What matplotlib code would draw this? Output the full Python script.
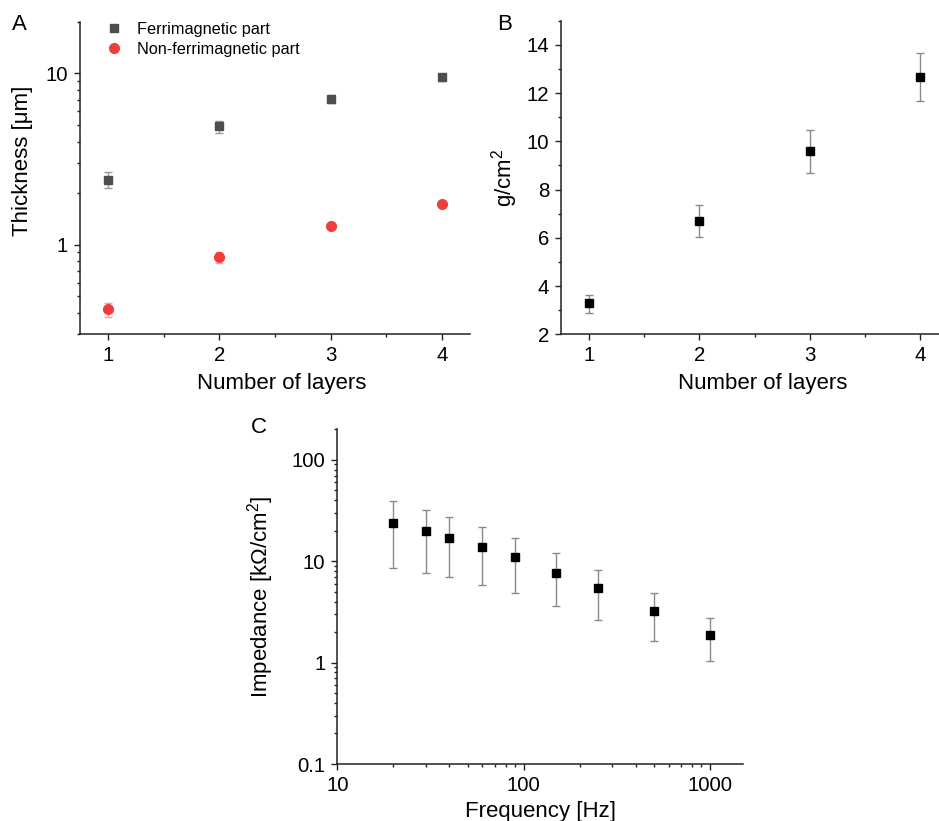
import matplotlib
matplotlib.use("Agg")
import matplotlib.pyplot as plt
from matplotlib.ticker import LogLocator, FixedLocator, NullFormatter, FixedFormatter, MultipleLocator

plt.rcParams['font.family'] = ['Liberation Sans', 'DejaVu Sans']
plt.rcParams['mathtext.default'] = 'regular'

# Panel A data
layers = [1, 2, 3, 4]
ferri = [2.40, 4.91, 7.10, 9.50]
ferri_lo = [2.15, 4.50, 6.75, 9.10]
ferri_hi = [2.65, 5.30, 7.45, 9.90]
nonferri = [0.418, 0.843, 1.28, 1.72]
nonferri_lo = [0.379, 0.785, 1.24, 1.68]
nonferri_hi = [0.457, 0.906, 1.32, 1.76]

# Panel B data
mass = [3.30, 6.70, 9.60, 12.66]
mass_lo = [2.89, 6.03, 8.69, 11.69]
mass_hi = [3.64, 7.36, 10.48, 13.65]

# Panel C data
freq = [20, 30, 40, 60, 90, 150, 250, 500, 1000]
imp = [23.8, 19.8, 17.1, 13.9, 10.9, 7.72, 5.40, 3.20, 1.88]
imp_lo = [8.6, 7.66, 6.95, 5.83, 4.86, 3.61, 2.61, 1.63, 1.03]
imp_hi = [39.5, 32.2, 27.3, 21.9, 16.9, 12.0, 8.15, 4.82, 2.73]

W, H = 939, 821
fig = plt.figure(figsize=(W / 100, H / 100), dpi=100)

def rect(l, r, t, b):
    return [l / W, 1 - b / H, (r - l) / W, (b - t) / H]

TICK_FS = 14.7
LAB_FS = 16
ERR_C = '#8a8a8a'

def style(ax):
    for s in ['top', 'right']:
        ax.spines[s].set_visible(False)
    for s in ['left', 'bottom']:
        ax.spines[s].set_linewidth(1.1)
        ax.spines[s].set_color('#222222')
    ax.tick_params(which='major', direction='out', length=4.5, width=1.0,
                   labelsize=TICK_FS, color='#222222', pad=4)
    ax.tick_params(which='minor', direction='out', length=2.5, width=1.0,
                   color='#222222')

def errs(v, lo, hi):
    return [[a - b for a, b in zip(v, lo)], [b - a for a, b in zip(v, hi)]]

# ---------------- Panel A ----------------
axA = fig.add_axes(rect(80, 470, 22, 334))
axA.set_yscale('log')
axA.errorbar(layers, ferri, yerr=errs(ferri, ferri_lo, ferri_hi), fmt='none',
             ecolor='#9a9a9a', elinewidth=1.0, capsize=3, capthick=1.0)
axA.errorbar(layers, nonferri, yerr=errs(nonferri, nonferri_lo, nonferri_hi), fmt='none',
             ecolor='#f5a0a0', elinewidth=1.0, capsize=3, capthick=1.0)
axA.plot(layers, ferri, 's', color='#4d4d4d', markersize=6.3, label='Ferrimagnetic part')
axA.plot(layers, nonferri, 'o', color='#f23c3c', markersize=7, label='Non-ferrimagnetic part')
axA.set_xlim(0.75, 4.25)
axA.set_ylim(0.3, 20)
axA.xaxis.set_major_locator(FixedLocator(layers))
axA.xaxis.set_minor_locator(FixedLocator([1.5, 2.5, 3.5]))
axA.yaxis.set_major_locator(FixedLocator([1, 10]))
axA.yaxis.set_major_formatter(FixedFormatter(['1', '10']))
axA.yaxis.set_minor_locator(LogLocator(base=10, subs=range(2, 10)))
axA.yaxis.set_minor_formatter(NullFormatter())
style(axA)
axA.set_xlabel('Number of layers', fontsize=LAB_FS)
axA.set_ylabel('Thickness [μm]', fontsize=LAB_FS)
axA.xaxis.set_label_coords(0.518, -0.124)
axA.yaxis.set_label_coords(-0.12, 0.555)
axA.legend(loc='upper left', bbox_to_anchor=(0.067, 1.0), frameon=False,
           fontsize=11.7, handlelength=1.0, handletextpad=0.9,
           labelspacing=0.3, borderpad=0, borderaxespad=0)
fig.text(12 / W, 1 - 30 / H, 'A', fontsize=16)

# ---------------- Panel B ----------------
axB = fig.add_axes(rect(561, 948, 20.7, 334.3))
axB.errorbar(layers, mass, yerr=errs(mass, mass_lo, mass_hi), fmt='none',
             ecolor=ERR_C, elinewidth=1.0, capsize=3, capthick=1.0)
axB.plot(layers, mass, 's', color='black', markersize=5.5)
axB.set_xlim(0.75, 4.25)
axB.set_ylim(2, 15)
axB.xaxis.set_major_locator(FixedLocator(layers))
axB.xaxis.set_minor_locator(FixedLocator([1.5, 2.5, 3.5]))
axB.yaxis.set_major_locator(MultipleLocator(2))
axB.yaxis.set_minor_locator(MultipleLocator(1))
style(axB)
axB.set_xlabel('Number of layers', fontsize=LAB_FS)
axB.set_ylabel('g/cm$^2$', fontsize=LAB_FS)
axB.xaxis.set_label_coords(0.521, -0.124)
axB.yaxis.set_label_coords(-0.106, 0.5)
fig.text(497 / W, 1 - 30 / H, 'B', fontsize=16)

# ---------------- Panel C ----------------
axC = fig.add_axes(rect(337.3, 742.7, 429.3, 764))
axC.set_xscale('log')
axC.set_yscale('log')
axC.errorbar(freq, imp, yerr=errs(imp, imp_lo, imp_hi), fmt='none',
             ecolor=ERR_C, elinewidth=1.0, capsize=3, capthick=1.0)
axC.plot(freq, imp, 's', color='black', markersize=5.5)
axC.set_xlim(10, 1500)
axC.set_ylim(0.1, 200)
axC.xaxis.set_major_locator(FixedLocator([10, 100, 1000]))
axC.xaxis.set_major_formatter(FixedFormatter(['10', '100', '1000']))
axC.xaxis.set_minor_locator(LogLocator(base=10, subs=range(2, 10)))
axC.xaxis.set_minor_formatter(NullFormatter())
axC.yaxis.set_major_locator(FixedLocator([0.1, 1, 10, 100]))
axC.yaxis.set_major_formatter(FixedFormatter(['0.1', '1', '10', '100']))
axC.yaxis.set_minor_locator(LogLocator(base=10, subs=range(2, 10)))
axC.yaxis.set_minor_formatter(NullFormatter())
style(axC)
axC.set_xlabel('Frequency [Hz]', fontsize=LAB_FS)
axC.set_ylabel('Impedance [kΩ/cm$^2$]', fontsize=LAB_FS)
axC.xaxis.set_label_coords(0.502, -0.112)
axC.yaxis.set_label_coords(-0.15, 0.5)
fig.text(251 / W, 1 - 433 / H, 'C', fontsize=16)

fig.savefig('out.png', dpi=100)
